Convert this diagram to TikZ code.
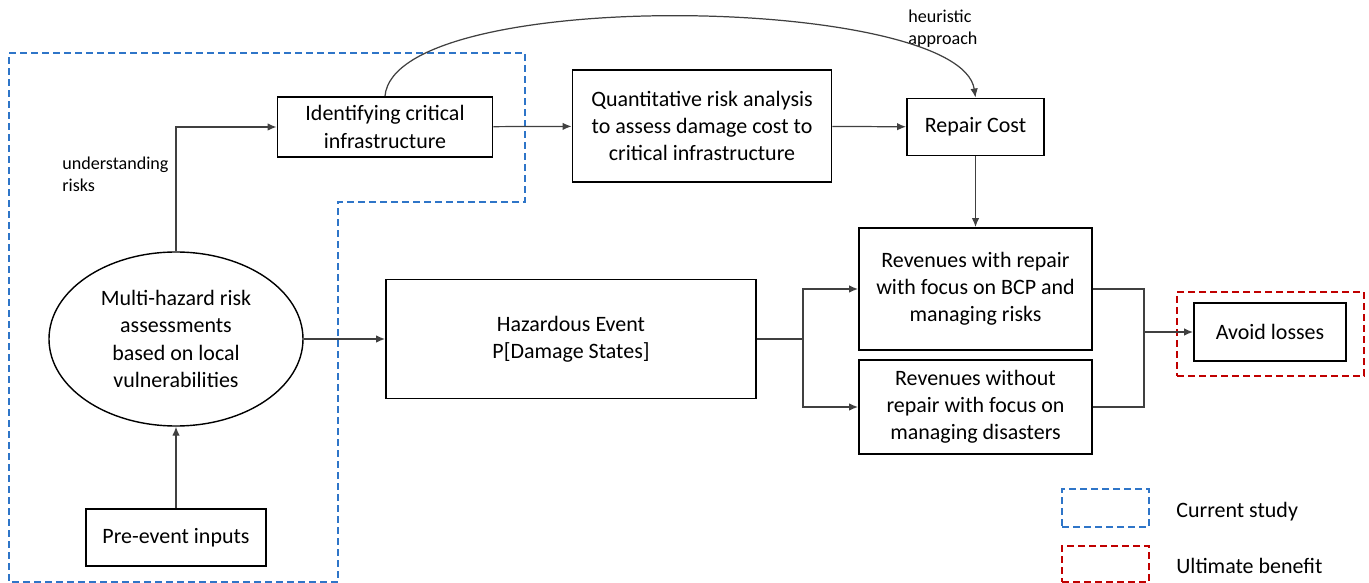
\documentclass[tikz,border=0pt]{standalone}
\usepackage{fontspec}
\setmainfont{Carlito}
\usetikzlibrary{arrows.meta}
\usetikzlibrary{math}
\usetikzlibrary{shapes.geometric}
\usetikzlibrary{positioning}
\definecolor{studyblue}{RGB}{46,117,200}
\definecolor{benefitred}{RGB}{192,0,0}
\begin{document}
\begin{tikzpicture}[x=0.2mm,y=-0.2mm,
    box/.style={draw=black,rectangle,line width=1.1pt,align=center,inner sep=0pt,
        font=\fontsize{12.5}{15.5}\selectfont},
    link/.style={draw=black!75,line width=0.7pt,-{Latex[length=1.8mm,width=1.5mm]}},
    line/.style={draw=black!75,line width=0.7pt},
    note/.style={align=left,inner sep=0pt,font=\fontsize{10.3}{12.5}\selectfont},
    legend/.style={inner sep=0pt,anchor=west,font=\fontsize{12.5}{15.5}\selectfont},
    region/.style={line width=0.9pt,dash pattern=on 1.4mm off 0.8mm}]
    \useasboundingbox (0,0) rectangle (1369,583);
    \tikzmath{  \xa = 176 ;
                \xb = 385 ;
                \xc = 702 ;
                \xd = 975.5 ;
                \ya = 127 ;
                \yb = 339 ;
                }
    % current study region
    \draw[region,studyblue] (9,53) -- (525,53) -- (525,202) -- (338,202) -- (338,582) -- (9,582) -- cycle;

    \node[box,minimum width=43mm,minimum height=12mm] (ident) at (\xb,\ya) {Identifying critical\\infrastructure};
    \node[box,minimum width=51.8mm,minimum height=22.4mm] (quant) at (\xc,126) {Quantitative risk analysis\\to assess damage cost to\\critical infrastructure};
    \node[box,minimum width=27.4mm,minimum height=11.4mm] (repair) at (\xd,\ya) {Repair Cost};
    \node[box,minimum width=46.6mm,minimum height=24.4mm] (revrep) at (\xd,289) {Revenues with repair\\with focus on BCP and\\managing risks};
    \node[box,minimum width=46.6mm,minimum height=18.8mm] (revnorep) at (\xd,407) {Revenues without\\repair with focus on\\managing disasters};
    \node[box,minimum width=74mm,minimum height=23.8mm] (hazard) at (571,\yb) {Hazardous Event\\P[Damage States]};
    \node[box,ellipse,line width=0.8pt,minimum width=50.8mm,minimum height=34.8mm] (assess) at (\xa,\yb) {Multi-hazard risk\\assessments\\based on local\\vulnerabilities};
    \node[box,minimum width=36mm,minimum height=11.4mm] (pre) at (\xa,537.5) {Pre-event inputs};
    \node[box,minimum width=30.4mm,minimum height=11.6mm] (avoid) at (1270,332) {Avoid losses};
    \node[draw=benefitred,region,minimum width=37.4mm,minimum height=16.8mm] (benefit) at (1270.5,334) {};

    \node[note,anchor=north west] (understand) at (62,157) {understanding\\risks};
    \node[note,anchor=north west] (heur) at (908,10) {heuristic\\approach};

    \coordinate (split) at (803,\yb);
    \coordinate (join) at (1144,332);

    \draw[link] (pre) -- (assess);
    \draw[link] (assess.north) |- (ident.west);
    \draw[link] (ident) -- (quant);
    \draw[link] (quant) -- (repair);
    \draw[link] (ident.north) .. controls (395,-15) and (960,-5) .. (repair.north);
    \draw[link] (repair) -- (revrep);
    \draw[link] (assess) -- (hazard);
    \draw[line] (hazard.east) -- (split);
    \draw[link] (split) |- (revrep.west);
    \draw[link] (split) |- (revnorep.west);
    \draw[line] (revrep.east) -| (join) |- (revnorep.east);
    \draw[link] (join) -- (avoid);

    % legend
    \node[draw=studyblue,region,minimum width=17.4mm,minimum height=7.6mm] (keyblue) at (1105.5,508) {};
    \node[draw=benefitred,region,minimum width=17.4mm,minimum height=7.2mm] (keyred) at (1105.5,564) {};
    \node[legend] (keybluetext) at (1176,512) {Current study};
    \node[legend] (keyredtext) at (1176,566) {Ultimate benefit};
\end{tikzpicture}
\end{document}
